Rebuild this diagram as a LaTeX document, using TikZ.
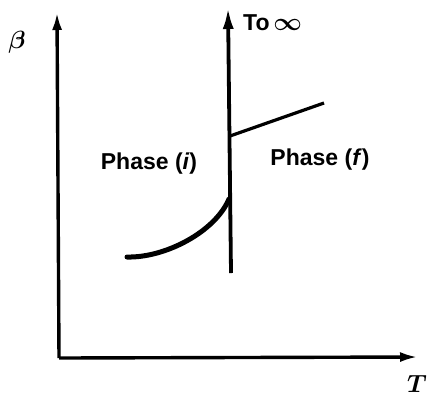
\documentclass[tikz,border=0pt]{standalone}
\usepackage{amsmath}
\usepackage{fontspec}
\setmainfont{Liberation Sans}
\usetikzlibrary{arrows.meta}
\tikzset{
  axis/.style={line width=3.4pt,-{Latex[length=18pt,width=10pt]}},
  heavy/.style={line width=5pt,line cap=round},
  lbl/.style={font=\bfseries\fontsize{23}{23}\selectfont,inner sep=0pt},
  axlbl/.style={font=\bfseries\itshape\fontsize{24}{24}\selectfont,inner sep=0pt}
}
\begin{document}
\begin{tikzpicture}[x=1pt,y=-1pt]
\useasboundingbox (0,0) rectangle (427,397);
% axes
\coordinate (O) at (59,358);
\coordinate (Ytop) at (57,12);
\coordinate (Xend) at (418,357);
\draw[axis] (O) -- (Ytop);
\draw[axis] (O) -- (Xend);
\node[axlbl] (beta) at (17,42) {$\boldsymbol{\beta}$};
\node[axlbl] (Tlab) at (417,384) {$\boldsymbol{T}$};
% vertical phase line
\coordinate (Vbot) at (231,273);
\coordinate (Vtop) at (228,7);
\draw[line width=3.8pt,-{Latex[length=22pt,width=11pt]}] (Vbot) -- (Vtop);
\node[lbl,anchor=west] (toinf) at (243,23) {To\,$\boldsymbol{\infty}$};
% upper branch
\coordinate (Ua) at (230,136);
\coordinate (Ub) at (324,103);
\draw[line width=3.2pt] (Ua) -- (Ub);
% lower curve
\coordinate (La) at (127,257);
\coordinate (Lb) at (229,199);
\draw[heavy] (La) .. controls (165,258) and (215,232) .. (Lb);
% labels
\node[lbl] (pi) at (149,164) {Phase (\textit{i})};
\node[lbl] (pf) at (320,160) {Phase (\textit{f})};
\end{tikzpicture}
\end{document}
